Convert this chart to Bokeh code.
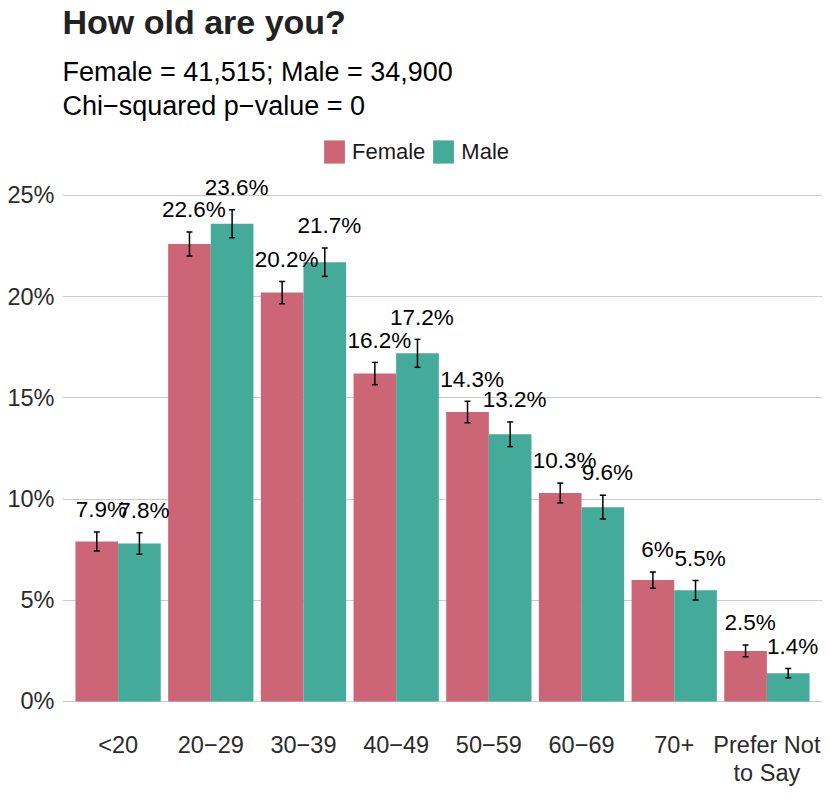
from bokeh.plotting import figure
from bokeh.models import (ColumnDataSource, Whisker, TeeHead, Legend, LegendItem, Title,
                          FixedTicker, Range1d, PrintfTickFormatter)
from bokeh.core.properties import value
from bokeh.embed import file_html
from bokeh.resources import INLINE

# ---- data ----
categories = ["<20", "20\u221229", "30\u221239", "40\u221249", "50\u221259",
              "60\u221269", "70+", "Prefer Not\nto Say"]
female = [7.9, 22.6, 20.2, 16.2, 14.3, 10.3, 6.0, 2.5]
male = [7.8, 23.6, 21.7, 17.2, 13.2, 9.6, 5.5, 1.4]
female_err = [0.47, 0.59, 0.55, 0.55, 0.53, 0.49, 0.40, 0.29]
male_err = [0.53, 0.69, 0.70, 0.69, 0.61, 0.59, 0.48, 0.23]
female_labels = ["7.9%", "22.6%", "20.2%", "16.2%", "14.3%", "10.3%", "6%", "2.5%"]
male_labels = ["7.8%", "23.6%", "21.7%", "17.2%", "13.2%", "9.6%", "5.5%", "1.4%"]
y_ticks = [0, 5, 10, 15, 20, 25]

title_text = "How old are you?"
subtitle_text = "Female = 41,515; Male = 34,900\nChi\u2212squared p\u2212value = 0"

FONT = "Liberation Sans"
F_COL = "#CC6677"
M_COL = "#44AA99"
BAR_W = 0.46
OFF = 0.23
LABEL_GAP = 1.1

idx = list(range(len(categories)))

def make_source(vals, errs, labels, sign):
    return ColumnDataSource(dict(
        x=[i + sign * OFF for i in idx],
        top=vals,
        upper=[v + e for v, e in zip(vals, errs)],
        lower=[v - e for v, e in zip(vals, errs)],
        ly=[v + e + LABEL_GAP for v, e in zip(vals, errs)],
        lab=labels,
    ))

src_f = make_source(female, female_err, female_labels, -1)
src_m = make_source(male, male_err, male_labels, 1)

p = figure(width=822, height=790, output_backend="svg", toolbar_location=None,
           x_range=Range1d(-0.6, 7.6), y_range=Range1d(-1.186, 28.01),
           min_border_left=62, min_border_right=0, min_border_bottom=65,
           min_border_top=0, title=None)
p.outline_line_color = None
p.background_fill_color = "white"

rf = p.vbar(x="x", top="top", width=BAR_W, source=src_f, fill_color=F_COL, line_color=None)
rm = p.vbar(x="x", top="top", width=BAR_W, source=src_m, fill_color=M_COL, line_color=None)

for src in (src_f, src_m):
    w = Whisker(source=src, base="x", upper="upper", lower="lower",
                line_color="black", line_width=1.5, level="overlay",
                upper_head=TeeHead(size=6, line_width=1.5, line_color="black"),
                lower_head=TeeHead(size=6, line_width=1.5, line_color="black"))
    p.add_layout(w)
    p.text(x="x", y="ly", text="lab", source=src, text_align="center",
           text_baseline="alphabetic", text_font_size="22.5px", x_offset=4.5,
           text_font=value(FONT), text_color="black")

legend = Legend(items=[LegendItem(label="Female", renderers=[rf]),
                       LegendItem(label="Male", renderers=[rm])],
                orientation="horizontal", location=(259, 559),
                glyph_width=26, glyph_height=29, label_standoff=5, spacing=5,
                padding=0, margin=0, border_line_color=None,
                background_fill_alpha=0, label_text_font_size="22px",
                label_text_font=FONT, label_height=29, label_text_color="#1a1a1a")
p.add_layout(legend)

# axes
p.xgrid.visible = False
p.ygrid.grid_line_color = "#CCCCCC"
p.ygrid.grid_line_width = 1.2
for ax in (p.xaxis[0], p.yaxis[0]):
    ax.axis_line_color = None
    ax.major_tick_line_color = None
    ax.minor_tick_line_color = None
    ax.major_tick_out = 0
    ax.major_tick_in = 0
    ax.major_label_text_font = FONT
    ax.major_label_text_font_size = "23.5px"
    ax.major_label_text_color = "#2b2b2b"

p.xaxis.ticker = FixedTicker(ticks=idx)
p.xaxis.major_label_overrides = {i: c for i, c in enumerate(categories)}
p.xaxis.major_label_standoff = 6
p.xaxis.major_label_text_line_height = 1.1
p.yaxis.ticker = FixedTicker(ticks=y_ticks)
p.yaxis.formatter = PrintfTickFormatter(format="%d%%")
p.yaxis.major_label_standoff = 8

# titles (closest to frame first)
p.add_layout(Title(text=subtitle_text, text_font=FONT, text_font_size="27px",
                   text_font_style="normal", align="left", text_color="black",
                   text_line_height=1.15, standoff=27), "above")
p.add_layout(Title(text=title_text, text_font=FONT, text_font_size="34px",
                   text_font_style="bold", align="left", text_color="#222222",
                   standoff=0), "above")

open("out.html", "w").write(file_html(p, INLINE))
